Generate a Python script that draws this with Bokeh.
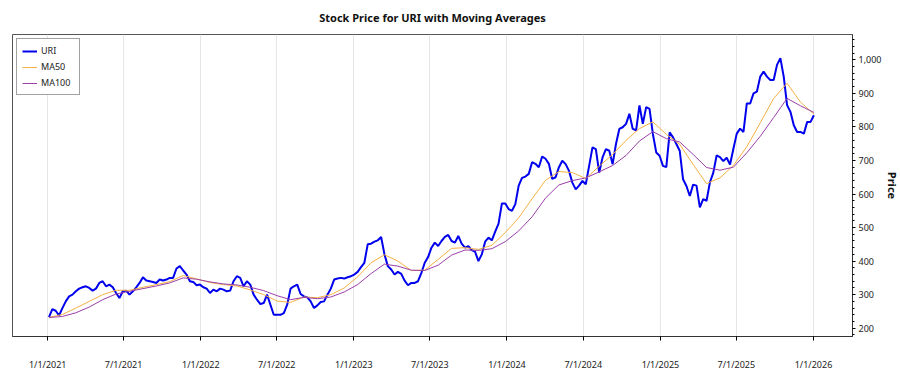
import pandas as pd
from datetime import datetime
from bokeh.plotting import figure
from bokeh.models import FixedTicker, NumeralTickFormatter, Range1d
from bokeh.embed import file_html
from bokeh.resources import INLINE

ticker_symbol = "URI"
start_date = "2021-01-04"
price_step_days = 8
ma_step_days = 32

price = [
    233, 257, 252, 238, 260, 280, 295, 300, 310, 318,
    322, 325, 320, 312, 318, 335, 340, 325, 330, 322,
    305, 290, 310, 312, 300, 310, 322, 335, 352, 342,
    340, 338, 335, 345, 342, 345, 350, 350, 378, 385,
    372, 360, 340, 338, 328, 330, 322, 318, 305, 315,
    310, 318, 315, 310, 312, 340, 355, 350, 325, 340,
    330, 300, 285, 272, 275, 300, 270, 240, 240, 240,
    245, 270, 318, 325, 330, 302, 295, 292, 280, 260,
    268, 278, 280, 300, 318, 345, 348, 350, 348, 352,
    355, 360, 368, 382, 395, 450, 452, 458, 462, 472,
    420, 385, 375, 360, 368, 362, 342, 328, 335, 335,
    340, 365, 395, 412, 440, 455, 445, 460, 472, 478,
    460, 455, 475, 452, 440, 445, 433, 428, 400, 420,
    458, 470, 462, 488, 512, 572, 572, 555, 550, 570,
    625, 648, 652, 660, 695, 690, 680, 712, 705, 690,
    645, 650, 680, 699, 689, 669, 634, 614, 625, 639,
    629, 684, 739, 734, 664, 709, 734, 729, 689, 749,
    794, 799, 809, 839, 794, 790, 864, 809, 859, 854,
    779, 724, 714, 684, 680, 784, 769, 749, 729, 644,
    624, 594, 628, 625, 560, 585, 580, 635, 663, 715,
    710, 698, 708, 688, 735, 780, 795, 785, 870, 870,
    900, 905, 950, 965, 950, 940, 940, 985, 1005, 950,
    865, 845, 805, 785, 785, 780, 815, 815, 835,
]

ma50 = [
    232, 241, 260, 280, 300, 313, 313, 322, 330, 339,
    357, 347, 336, 330, 326, 314, 300, 281, 277, 293,
    291, 300, 320, 353, 395, 419, 400, 372, 373, 405,
    438, 440, 435, 447, 485, 529, 586, 641, 667, 664,
    646, 683, 718, 760, 795, 815, 778, 748, 688, 631,
    648, 685, 741, 812, 885, 930, 874, 838,
]
ma100 = [
    232, 235, 246, 263, 285, 302, 310, 318, 326, 335,
    350, 346, 338, 332, 329, 322, 312, 297, 285, 292,
    288, 293, 308, 330, 363, 391, 385, 373, 372, 388,
    418, 433, 432, 437, 458, 490, 532, 588, 627, 640,
    648, 666, 685, 715, 758, 786, 765, 755, 718, 679,
    671, 680, 723, 772, 828, 885, 863, 843,
]

x_tick_labels = ["1/1/2021", "7/1/2021", "1/1/2022", "7/1/2022", "1/1/2023",
                 "7/1/2023", "1/1/2024", "7/1/2024", "1/1/2025", "7/1/2025",
                 "1/1/2026"]
y_ticks = [200, 300, 400, 500, 600, 700, 800, 900, 1000]

price_dates = pd.date_range(start_date, periods=len(price), freq=f"{price_step_days}D")
ma_dates = pd.date_range(start_date, periods=len(ma50), freq=f"{ma_step_days}D")

p = figure(frame_width=840, frame_height=302, x_axis_type="datetime",
           y_axis_location="right", output_backend="svg", toolbar_location=None,
           x_range=Range1d(datetime(2020, 10, 9), datetime(2026, 4, 4)),
           y_range=Range1d(175.3, 1075.5),
           min_border_left=12, min_border_top=34, min_border_bottom=0, min_border_right=0,
           background_fill_color="white", border_fill_color="white")

p.title.text = f"Stock Price for {ticker_symbol} with Moving Averages"
p.title.align = "center"
p.title.vertical_align = "top"
p.title.text_font = "Noto Sans"
p.title.text_font_size = "11px"
p.title.text_font_style = "bold"
p.title.text_color = "#111111"
p.title.standoff = 16
p.title.offset = 0

p.line(price_dates, price, color="#0000ee", line_width=2, legend_label="URI")
p.line(ma_dates, ma50, color="#f4b042", line_width=1, legend_label="MA50")
p.line(ma_dates, ma100, color="#9a3fa8", line_width=1, legend_label="MA100")

tick_ts = pd.to_datetime(x_tick_labels, format="%m/%d/%Y")
tick_ms = [int(t.value // 10**6) for t in tick_ts]
p.xaxis.ticker = FixedTicker(ticks=tick_ms)
p.xaxis.major_label_overrides = {ms: lab for ms, lab in zip(tick_ms, x_tick_labels)}
p.xaxis.minor_tick_line_color = None
p.xaxis.major_tick_out = 4
p.xaxis.major_tick_in = 0
p.xaxis.major_label_standoff = 17
p.xaxis.major_label_text_font = "Noto Sans"
p.xaxis.major_label_text_font_size = "9px"
p.xaxis.major_label_text_color = "#222222"
p.xaxis.axis_line_color = "#333333"

p.yaxis.ticker = FixedTicker(ticks=y_ticks,
                             minor_ticks=list(range(180, 1080, 20)))
p.yaxis.formatter = NumeralTickFormatter(format="0,0")
p.yaxis.major_tick_out = 3
p.yaxis.major_tick_in = 0
p.yaxis.minor_tick_out = 2
p.yaxis.minor_tick_in = 0
p.yaxis.major_label_standoff = 3
p.yaxis.major_label_text_font = "Noto Sans"
p.yaxis.major_label_text_font_size = "9px"
p.yaxis.major_label_text_color = "#222222"
p.yaxis.axis_line_color = "#333333"
p.yaxis.axis_label = "Price"
p.yaxis.axis_label_text_font = "Noto Sans"
p.yaxis.axis_label_text_font_size = "11px"
p.yaxis.axis_label_text_font_style = "bold"
p.yaxis.axis_label_text_color = "#111111"
p.yaxis.axis_label_standoff = 0

p.ygrid.grid_line_color = None
p.xgrid.grid_line_color = "#e6e6e6"
p.outline_line_color = "#555555"

lg = p.legend[0]
lg.location = "top_left"
lg.margin = 4
lg.padding = 5
lg.spacing = 3
lg.glyph_width = 15
lg.glyph_height = 12
lg.label_height = 12
lg.label_width = 33
lg.label_standoff = 4
lg.label_text_font = "Noto Sans"
lg.label_text_font_size = "9px"
lg.label_text_color = "#222222"
lg.border_line_color = "#444444"
lg.border_line_width = 1
lg.background_fill_color = "white"
lg.background_fill_alpha = 1.0

open("out.html", "w").write(file_html(p, INLINE))
